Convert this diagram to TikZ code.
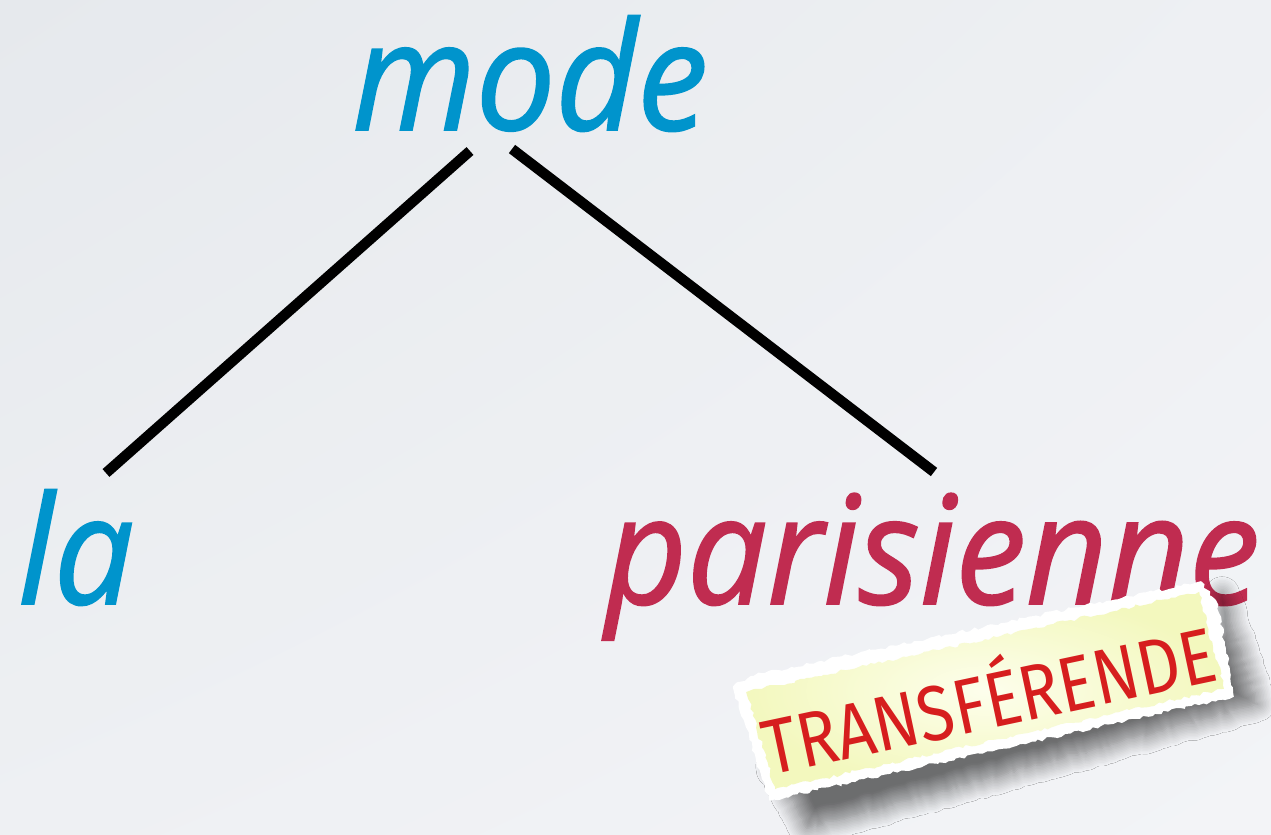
\documentclass[tikz,border=0pt]{standalone}
\usepackage{fontspec}
\setmainfont{Open Sans}[ItalicFeatures={FakeBold=1.3}]
\newfontfamily\tagfont{Fira Sans}
\usetikzlibrary{decorations.pathmorphing,shadows.blur,shadings}
\definecolor{bgA}{RGB}{230,233,237}
\definecolor{bgB}{RGB}{238,240,243}
\definecolor{bgC}{RGB}{243,244,247}
\definecolor{wordblue}{RGB}{0,148,204}
\definecolor{wordred}{RGB}{192,44,80}
\definecolor{tagred}{RGB}{214,30,30}
\definecolor{paperin}{RGB}{253,254,236}
\definecolor{paperout}{RGB}{243,248,190}
\begin{document}
\begin{tikzpicture}[x=0.75pt,y=-0.75pt,
  word/.style={inner sep=0pt, anchor=base west, font=\fontsize{113}{120}\selectfont\itshape},
  edge/.style={line width=7.8pt, black, line cap=butt},
  torn/.style={decorate, decoration={random steps, segment length=3pt, amplitude=1.3pt}}]
\useasboundingbox (0,0) rectangle (1271,835);
\shade[upper left=bgA, upper right=bgB, lower left=bgB, lower right=bgC] (0,0) rectangle (1271,835);

\node[word, text=wordblue] (mode) at (352,130) {\scalebox{0.94}[1]{mode}};
\node[word, text=wordblue] (la) at (18,604) {\scalebox{0.94}[1]{la}};
\node[word, text=wordred] (par) at (605,604) {\scalebox{0.94}[1]{parisienne}};

\coordinate (modeL) at (470,151);
\coordinate (modeR) at (512,149);
\coordinate (laT) at (106,473);
\coordinate (parT) at (934,472);
\draw[edge] (modeL) -- (laT);
\draw[edge] (modeR) -- (parT);

\begin{scope}[shift={(987,690)}, rotate=12]
  \pgfmathsetmacro{\dummy}{0}
  \pgfmathsetseed{7}
  \path[torn, blur shadow={shadow xshift=0pt, shadow yshift=0pt, shadow blur radius=13pt, shadow blur steps=12, shadow opacity=55}]
    (-225,30) -- (30,28) -- (240,-10) -- (250,-45) -- (262,70) -- (-205,98) -- cycle;
  \fill[white, torn] (-248,-56) -- (-228,-63) -- (232,-62) -- (244,-35) -- (240,58) -- (-236,63) -- cycle;
  \shade[inner color=paperin, outer color=paperout, torn] (-236,-48) -- (228,-52) -- (232,48) -- (-228,53) -- cycle;
  \node[text=tagred, font=\tagfont\fontsize{54}{54}\selectfont, transform shape, inner sep=0pt] (tag) at (0,4) {\scalebox{0.92}[1.08]{TRANSFÉRENDE}};
\end{scope}
\end{tikzpicture}
\end{document}
